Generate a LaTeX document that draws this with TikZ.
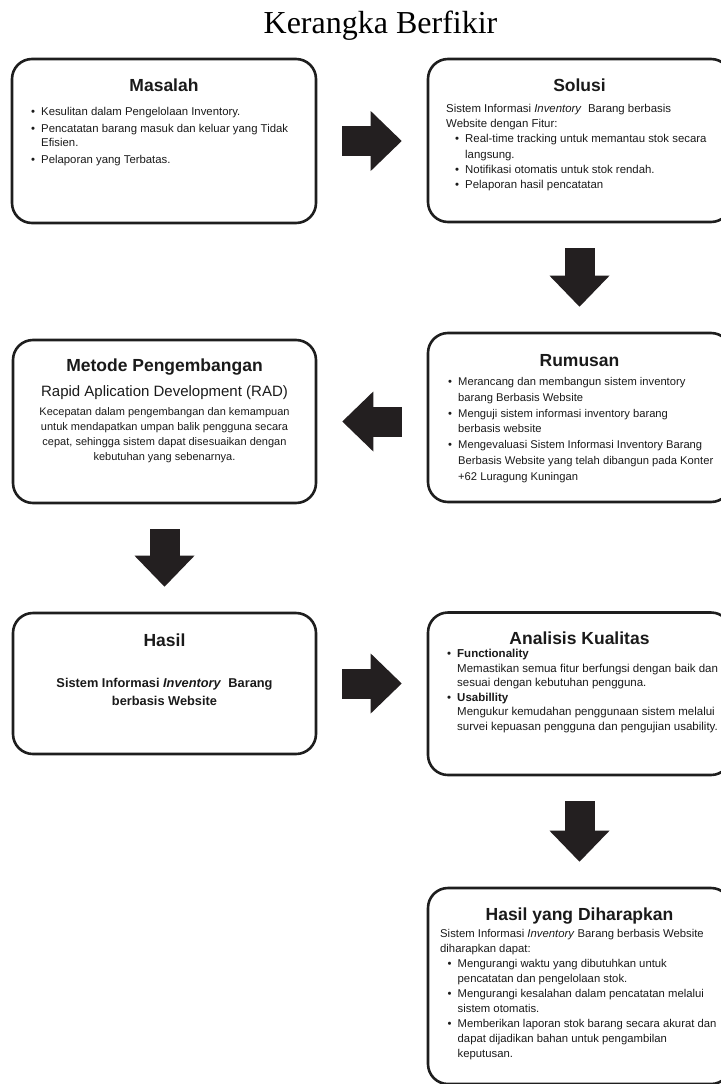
\documentclass[tikz,border=0pt]{standalone}
\usepackage{fontspec}
\setmainfont{Liberation Sans}
\newfontfamily\titlefont{Liberation Serif}
\usetikzlibrary{arrows.meta,calc}
\definecolor{boxcol}{HTML}{1E1E1E}
\definecolor{arrowcol}{HTML}{231F20}
\definecolor{txtcol}{HTML}{1A1A1A}
\newcommand\mybul{\makebox[10pt][l]{\textbullet}}
\tikzset{
  box/.style={draw=boxcol, line width=2.6pt, rounded corners=20pt, inner sep=0pt},
  head/.style={anchor=base, inner sep=0pt, text=txtcol, font=\bfseries\fontsize{17.5}{21}\selectfont},
  body/.style={anchor=north west, inner sep=0pt, align=left, text=txtcol},
  bodyc/.style={anchor=north, inner sep=0pt, align=center, text=txtcol},
  blockarrow/.style={draw=arrowcol, line width=30pt,
    -{Triangle[length=31pt,width=60pt,line width=0pt]},
    shorten <=25pt, shorten >=25pt}
}
\begin{document}
\begin{tikzpicture}[x=1pt,y=-1pt]
\useasboundingbox (0,0) rectangle (720,1084);
% title
\node[anchor=base, inner sep=0pt, text=black, font=\titlefont\fontsize{32}{38}\selectfont] (title) at (380.5,33) {Kerangka Berfikir};
% boxes
\node[box, minimum width=304pt, minimum height=164pt] (masalah) at (164,141) {};
\node[box, minimum width=303pt, minimum height=163pt] (solusi) at (579.5,140.5) {};
\node[box, minimum width=303pt, minimum height=169pt] (rumusan) at (579.5,417.5) {};
\node[box, minimum width=303pt, minimum height=163pt] (metode) at (164.5,421.5) {};
\node[box, minimum width=303pt, minimum height=141pt] (hasil) at (164.5,683.5) {};
\node[box, minimum width=303pt, minimum height=162.5pt] (analisis) at (579.5,693.75) {};
\node[box, minimum width=303pt, minimum height=196pt] (harapan) at (579.5,986) {};
% arrows
\draw[blockarrow] (masalah.east) -- (masalah.east -| solusi.west);
\draw[blockarrow] (solusi.south) -- (rumusan.north);
\draw[blockarrow] (rumusan.west |- metode.east) -- (metode.east);
\draw[blockarrow] (metode.south) -- (hasil.north);
\draw[blockarrow] (hasil.east) -- (hasil.east -| analisis.west);
\draw[blockarrow] (analisis.south) -- (harapan.north);
% Masalah
\node[head] (masalahH) at (164,91.7) {Masalah};
\node[body, font=\fontsize{11.35}{14.5}\selectfont] (masalahT) at (31,104.85) {%
\strut\mybul Kesulitan dalam Pengelolaan Inventory.\\[2.5pt]
\mybul Pencatatan barang masuk dan keluar yang Tidak\\
\hspace*{10pt}Efisien.\\[2.5pt]
\mybul Pelaporan yang Terbatas.};
% Solusi
\node[head] (solusiH) at (579.5,91.7) {Solusi};
\node[body, font=\fontsize{11.4}{15.2}\selectfont] (solusiT) at (446,101.7) {%
\strut Sistem Informasi \textit{Inventory}\ \ Barang berbasis\\
Website dengan Fitur:\\
\hspace*{9pt}\mybul Real-time tracking untuk memantau stok secara\\
\hspace*{19pt}langsung.\\
\hspace*{9pt}\mybul Notifikasi otomatis untuk stok rendah.\\
\hspace*{9pt}\mybul Pelaporan hasil pencatatan};
% Rumusan
\node[head] (rumusanH) at (579.5,366) {Rumusan};
\node[body, font=\fontsize{11.2}{15.7}\selectfont] (rumusanT) at (448,374.7) {%
\strut\mybul Merancang dan membangun sistem inventory\\
\hspace*{10pt}barang Berbasis Website\\
\mybul Menguji sistem informasi inventory barang\\
\hspace*{10pt}berbasis website\\
\mybul Mengevaluasi Sistem Informasi Inventory Barang\\
\hspace*{10pt}Berbasis Website yang telah dibangun pada Konter\\
\hspace*{10pt}+62 Luragung Kuningan};
% Metode
\node[head] (metodeH) at (164.5,371.7) {Metode Pengembangan};
\node[anchor=base, inner sep=0pt, text=txtcol, font=\fontsize{15}{18}\selectfont] (metodeS) at (164.5,396) {Rapid Aplication Development (RAD)};
\node[bodyc, font=\fontsize{11}{14.9}\selectfont] (metodeT) at (164.5,404.9) {%
\strut Kecepatan dalam pengembangan dan kemampuan\\
untuk mendapatkan umpan balik pengguna secara\\
cepat, sehingga sistem dapat disesuaikan dengan\\
kebutuhan yang sebenarnya.};
% Hasil
\node[head] (hasilH) at (164.5,646.7) {Hasil};
\node[bodyc, font=\bfseries\fontsize{12.8}{17.7}\selectfont] (hasilT) at (164.5,674.9) {%
\strut Sistem Informasi \textit{Inventory}\ \ Barang\\
berbasis Website};
% Analisis
\node[head] (analisisH) at (579.5,644.3) {Analisis Kualitas};
\node[body, font=\fontsize{11.5}{14.5}\selectfont] (analisisT) at (447,647.15) {%
\strut\mybul\textbf{Functionality}\\
\hspace*{10pt}Memastikan semua fitur berfungsi dengan baik dan\\
\hspace*{10pt}sesuai dengan kebutuhan pengguna.\\
\mybul\textbf{Usabillity}\\
\hspace*{10pt}Mengukur kemudahan penggunaan sistem melalui\\
\hspace*{10pt}survei kepuasan pengguna dan pengujian usability.};
% Harapan
\node[head] (harapanH) at (579.5,920) {Hasil yang Diharapkan};
\node[body, font=\fontsize{11.3}{15}\selectfont] (harapanT) at (440,926.5) {%
\strut Sistem Informasi \textit{Inventory} Barang berbasis Website\\
diharapkan dapat:\\
\hspace*{7.5pt}\mybul Mengurangi waktu yang dibutuhkan untuk\\
\hspace*{17.5pt}pencatatan dan pengelolaan stok.\\
\hspace*{7.5pt}\mybul Mengurangi kesalahan dalam pencatatan melalui\\
\hspace*{17.5pt}sistem otomatis.\\
\hspace*{7.5pt}\mybul Memberikan laporan stok barang secara akurat dan\\
\hspace*{17.5pt}dapat dijadikan bahan untuk pengambilan\\
\hspace*{17.5pt}keputusan.};
\end{tikzpicture}
\end{document}
